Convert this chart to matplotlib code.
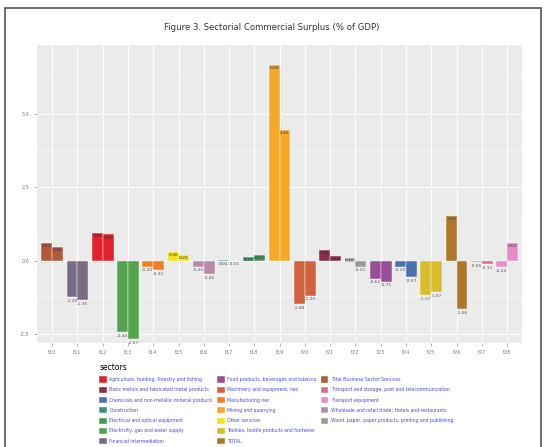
import numpy as np
import matplotlib.pyplot as plt
from matplotlib.patches import Patch, Rectangle

# --- data ---
tick_labels = ['t10', 't11', 't12', 't13', 't14', 't15', 't16', 't17', 't18', 't19',
               't20', 't21', 't22', 't23', 't24', 't25', 't26', 't27', 't28']
group_sectors = [
    'Total Business Sector Services',
    'Financial intermediation',
    'Agriculture, hunting, forestry and fishing',
    'Electricity, gas and water supply',
    'Manufacturing nec',
    'Other services',
    'Wholesale and retail trade; Hotels and restaurants',
    'Construction',
    'Electrical and optical equipment',
    'Mining and quarrying',
    'Machinery and equipment, nec',
    'Basic metals and fabricated metal products',
    'Wood, paper, paper products, printing and publishing',
    'Food products, beverages and tobacco',
    'Chemicals and non-metallic mineral products',
    'Textiles, textile products and footwear',
    'TOTAL',
    'Transport and storage, post and telecommunication',
    'Transport equipment',
]
first_vals = [0.61, -1.25, 0.96, -2.44, -0.2, 0.30, -0.20, 0.01, 0.13, 6.68,
              -1.48, 0.38, 0.10, -0.61, -0.20, -1.17, 1.52, -0.05, -0.22]
second_vals = [0.48, -1.35, 0.90, -2.67, -0.32, 0.20, -0.46, -0.01, 0.21, 4.45,
               -1.20, 0.16, -0.21, -0.71, -0.57, -1.07, -1.66, -0.12, 0.62]

legend_sectors = [
    'Agriculture, hunting, forestry and fishing',
    'Basic metals and fabricated metal products',
    'Chemicals and non-metallic mineral products',
    'Construction',
    'Electrical and optical equipment',
    'Electricity, gas and water supply',
    'Financial intermediation',
    'Food products, beverages and tobacco',
    'Machinery and equipment, nec',
    'Manufacturing nec',
    'Mining and quarrying',
    'Other services',
    'Textiles, textile products and footwear',
    'TOTAL',
    'Total Business Sector Services',
    'Transport and storage, post and telecommunication',
    'Transport equipment',
    'Wholesale and retail trade; Hotels and restaurants',
    'Wood, paper, paper products, printing and publishing',
]
legend_colors = ['#e3202b', '#8c2d4c', '#4a70ae', '#3a8e88', '#3f9a55', '#55a24e',
                 '#7b6c86', '#9a4e9a', '#d0623f', '#f37f22', '#f6a828', '#f1e41f',
                 '#d9bd2c', '#b0762b', '#b4583c', '#d66b8b', '#e98bc4', '#b68aa8',
                 '#9a9a9a']
sector_colors = dict(zip(legend_sectors, legend_colors))

fig = plt.figure(figsize=(5.44, 4.47), dpi=100)
fig.patch.set_facecolor('white')
ax = fig.add_axes([0.068, 0.233, 0.892, 0.666])
ax.set_facecolor('#ebebeb')

x = np.arange(len(tick_labels))
w = 0.43
for i, sec in enumerate(group_sectors):
    col = sector_colors[sec]
    for off, v in ((-w / 2, first_vals[i]), (w / 2, second_vals[i])):
        ax.bar(x[i] + off, v, width=w, color=col, edgecolor='white',
               linewidth=0.3, zorder=3)
        if v >= 0:
            ax.text(x[i] + off, v - 0.04, f'{v:.2f}', ha='center', va='top',
                    fontsize=3.2, color='#333333', zorder=4)
        else:
            ax.text(x[i] + off, v - 0.05, f'{v:.2f}', ha='center', va='top',
                    fontsize=3.2, color='#555555', zorder=4)

ax.set_xlim(-0.6, 18.6)
ax.set_ylim(-2.8, 7.35)
ax.set_xticks(x)
ax.set_xticklabels(tick_labels)
ax.set_yticks([-2.5, 0.0, 2.5, 5.0])
ax.set_yticklabels(['-2.5', '0.0', '2.5', '5.0'])
ax.set_yticks([-1.25, 1.25, 3.75, 6.25], minor=True)
ax.tick_params(axis='both', labelsize=3.5, colors='#777777', length=2, width=0.4)
ax.tick_params(axis='y', which='minor', length=0)
ax.grid(True, which='major', color='white', linewidth=0.7, zorder=0)
ax.grid(True, which='minor', axis='y', color='white', linewidth=0.35, zorder=0)
ax.set_axisbelow(True)
for s in ax.spines.values():
    s.set_visible(False)

fig.text(0.5, 1 - 27 / 447, 'Figure 3. Sectorial Commercial Surplus (% of GDP)',
         ha='center', va='center', fontsize=6.1, color='#333333')

# legend (3 columns: 7, 7, 5 entries)
handles = [Patch(facecolor=sector_colors[s], edgecolor='white', linewidth=0.3, label=s)
           for s in legend_sectors]
handles.append(Patch(facecolor='none', edgecolor='none', label=' '))
leg = fig.legend(handles=handles, ncol=3, loc='upper left',
                 bbox_to_anchor=(96 / 544, 1 - 360 / 447), frameon=False,
                 fontsize=3.3, title='sectors', title_fontsize=5.5,
                 handlelength=1.7, handleheight=1.7, handletextpad=0.5,
                 labelspacing=0.9, columnspacing=0.9, borderpad=0.2)
leg._legend_box.align = 'left'
for t in leg.get_texts():
    t.set_color('#4a4ad8')

fig.add_artist(Rectangle((5 / 544, -0.01), 536 / 544, 1 - 8 / 447 + 0.01,
                         transform=fig.transFigure, fill=False,
                         edgecolor='#555555', linewidth=1.2))

plt.savefig('out.png', dpi=100)
